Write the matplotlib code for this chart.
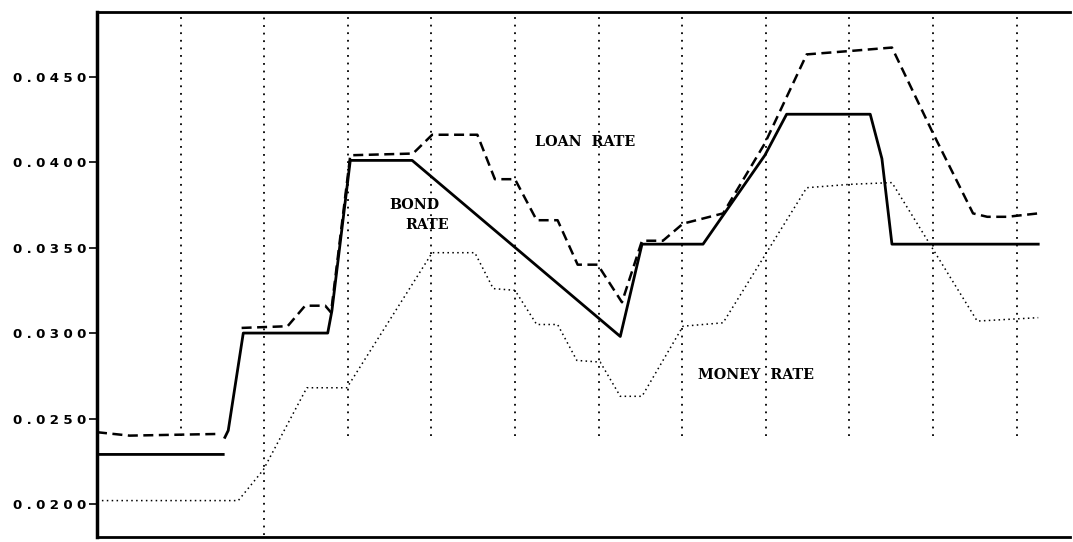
import numpy as np
import matplotlib
matplotlib.use("Agg")
from matplotlib import pyplot as plt

# period positions (x) and rates
bond_x = [0, 1.51, np.nan, 1.53, 1.57, 1.75, 2.76, 2.81, 3.03, 3.77, 6.26, 6.52, 7.25, 7.99, 8.25, 9.25, 9.39, 9.51, 11.26]
bond_y = [0.0229, 0.0229, np.nan, 0.0239, 0.0243, 0.0300, 0.0300, 0.0313, 0.0401, 0.0401, 0.0298, 0.0352, 0.0352, 0.0404, 0.0428, 0.0428, 0.0402, 0.0352, 0.0352]

loan_x = [0, 0.39, 1.47, np.nan, 1.73, 2.28, 2.49, 2.73, 2.80, 3.03, 3.78, 4.01, 4.55, 4.76, 5.00, 5.26, 5.51, 5.75, 5.99,
          6.28, 6.52, 6.77, 7.01, 7.49, 7.99, 8.49, 9.01, 9.51, 10.0, 10.48, 10.65, 10.89, 11.26]
loan_y = [0.0242, 0.0240, 0.0241, np.nan, 0.0303, 0.0304, 0.0316, 0.0316, 0.0312, 0.0404, 0.0405, 0.0416, 0.0416, 0.0390, 0.0390,
          0.0366, 0.0366, 0.0340, 0.0340, 0.0318, 0.0354, 0.0354, 0.0364, 0.0370, 0.0411, 0.0463, 0.0465, 0.0467, 0.0417,
          0.0370, 0.0368, 0.0368, 0.0370]

money_x = [0, 1.69, 1.99, 2.51, 2.99, 4.01, 4.52, 4.74, 5.00, 5.26, 5.51, 5.74, 6.02, 6.26, 6.52, 7.01, 7.49, 8.49, 9.01,
           9.51, 10.53, 11.26]
money_y = [0.0202, 0.0202, 0.0220, 0.0268, 0.0268, 0.0347, 0.0347, 0.0326, 0.0325, 0.0305, 0.0305, 0.0284, 0.0283, 0.0263,
           0.0263, 0.0304, 0.0306, 0.0385, 0.0387, 0.0388, 0.0307, 0.0309]

grid_x = [1, 2, 3, 4, 5, 6, 7, 8, 9, 10, 11]
grid_bottom = [0.0240, 0.0182, 0.0240, 0.0240, 0.0240, 0.0240, 0.0240, 0.0240, 0.0240, 0.0240, 0.0240]

yticks = [0.0200, 0.0250, 0.0300, 0.0350, 0.0400, 0.0450]
ytick_labels = ["0.0200", "0.0250", "0.0300", "0.0350", "0.0400", "0.0450"]

labels = [("LOAN  RATE", 5.84, 0.0412), ("BOND", 3.80, 0.0375), ("RATE", 3.95, 0.0363), ("MONEY  RATE", 7.88, 0.02755)]

fig = plt.figure(figsize=(10.73, 5.42), dpi=100)
ax = fig.add_axes([97 / 1073, 5 / 542, 973 / 1073, 525 / 542])

ymax = 0.04878
for gx, gb in zip(grid_x, grid_bottom):
    ax.vlines(gx, gb, ymax, colors="black", linestyles=(0, (1, 3.2)), linewidth=1.3)

ax.plot(bond_x, bond_y, color="black", linewidth=2.0, solid_joinstyle="round")
ax.plot(loan_x, loan_y, color="black", linewidth=1.8, linestyle=(0, (4, 2.2)))
ax.plot(money_x, money_y, color="black", linewidth=1.1, linestyle=(0, (1, 2.2)))

for txt, x, y in labels:
    ax.text(x, y, txt, ha="center", va="center", fontsize=10.3, fontweight="bold", family="DejaVu Serif")

ax.set_xlim(0, 11.64)
ax.set_ylim(0.01807, ymax)
ax.set_xticks([])
ax.set_yticks(yticks)
# plotter-style wide tick text
ax.set_yticklabels(["\u2004".join(t) for t in ytick_labels], family="DejaVu Sans", fontweight="bold", fontsize=9.6)
ax.tick_params(axis="y", direction="out", length=6, width=1.2, pad=1.5)

ax.spines["right"].set_visible(False)
ax.spines["left"].set_linewidth(2.5)
ax.spines["top"].set_linewidth(2.0)
ax.spines["bottom"].set_linewidth(2.0)

fig.savefig("out.png", dpi=100)
